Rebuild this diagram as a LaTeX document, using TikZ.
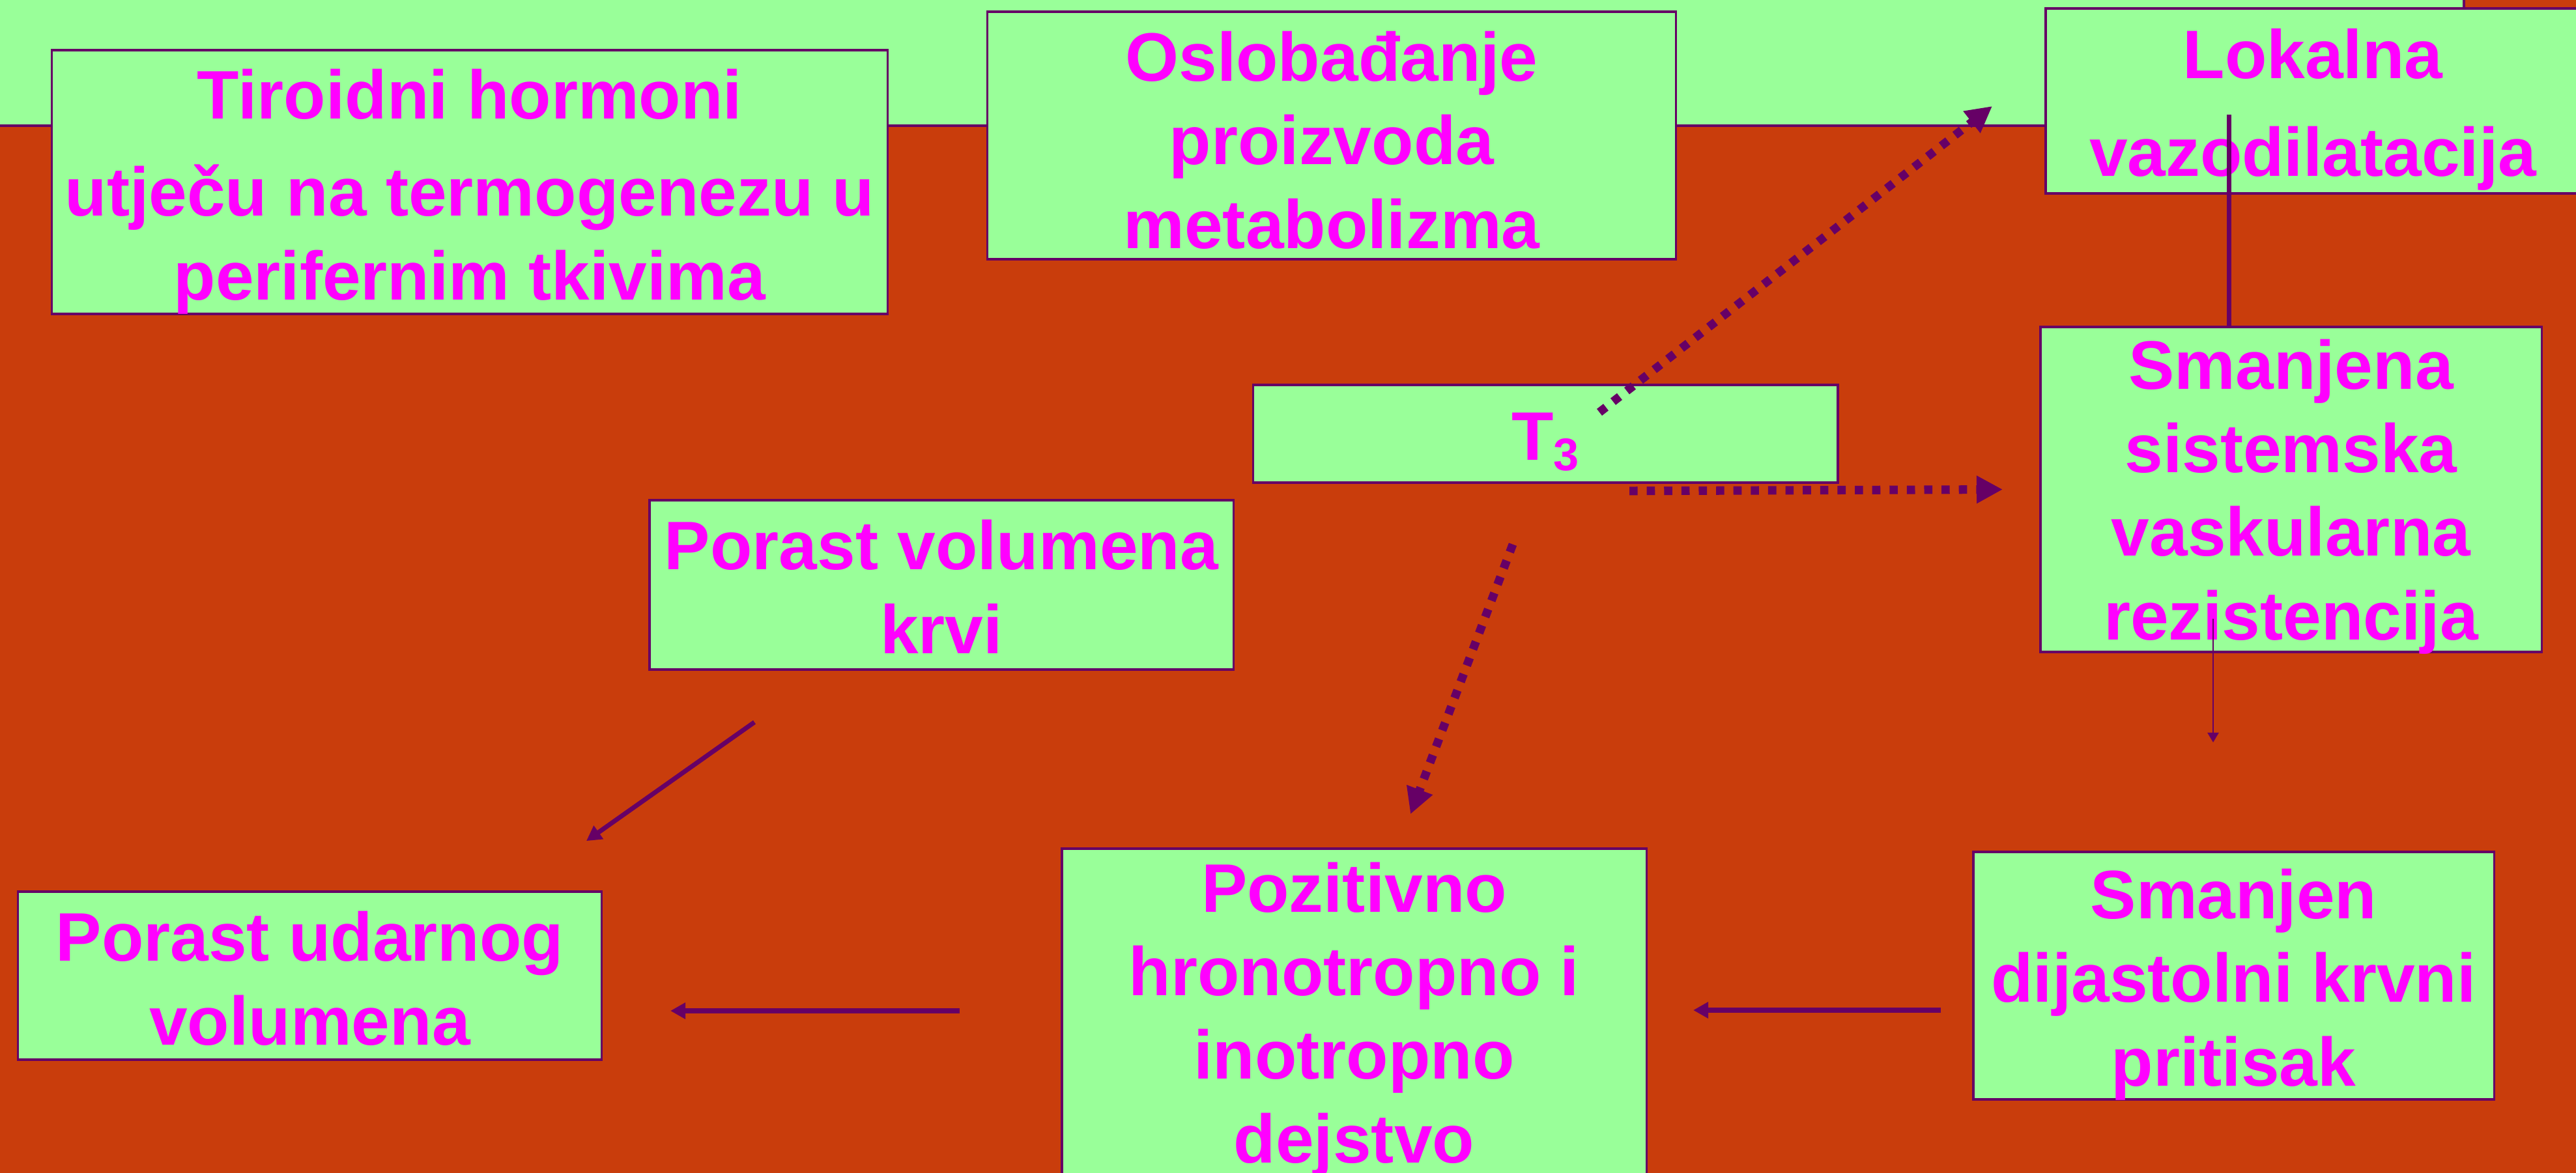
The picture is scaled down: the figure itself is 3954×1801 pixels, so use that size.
\documentclass[tikz,border=0pt]{standalone}
\usepackage{fontspec}
\setmainfont{Liberation Sans}
\usetikzlibrary{positioning,calc,arrows.meta}
\definecolor{bgred}{RGB}{201,61,12}
\definecolor{boxgreen}{RGB}{153,255,153}
\definecolor{txtpink}{RGB}{255,0,255}
\definecolor{arrpurple}{RGB}{102,0,102}
\tikzset{
	box/.style={draw=arrpurple, line width=1pt, fill=boxgreen, text=txtpink, align=center, inner sep=0pt, text depth=0pt, font=\fontsize{30}{36.5}\selectfont\bfseries},
	solidarr/.style={arrpurple, line width=2pt, -{Triangle[length=0.23cm,width=0.24cm]}},
	dotarr/.style={arrpurple, line width=3.7pt, dash pattern=on 0.126cm off 0.14cm, -{Triangle[length=0.4cm,width=0.4cm]}},
	thinarr/.style={arrpurple, line width=0.8pt, -{Triangle[length=0.15cm,width=0.17cm]}}
}

\begin{document}
\begin{tikzpicture}[x=0.01cm, y=-0.01cm]
	\useasboundingbox (0,0) rectangle (3954,1801);
	\clip (0,0) rectangle (3954,1801);
	\fill[bgred] (0,0) rectangle (3954,1801);
	\draw[arrpurple, line width=1pt, fill=boxgreen] (-10,-10) rectangle (3782,193);

	\begin{scope}
		\node[box, text height=3.61cm, minimum width=12.82cm, minimum height=4.05cm] (tir) at (721, 279.5) {Tiroidni hormoni\\[6pt]utječu na termogenezu u\\perifernim tkivima};
		\node[box, text height=3.46cm, minimum width=10.56cm, minimum height=3.80cm] (osl) at (2044, 208) {Oslobađanje\\proizvoda\\metabolizma};
		\node[box, text height=2.30cm, minimum width=8.20cm, minimum height=2.84cm] (lok) at (3550, 155) {Lokalna\\[6pt]vazodilatacija};
		\node[box, text height=0.80cm, minimum width=8.97cm, minimum height=1.50cm] (t3) at (2372, 666) {T\raisebox{-4.8pt}[0pt][0pt]{\fontsize{20}{20}\selectfont 3}};
		\node[box, text height=4.61cm, minimum width=7.69cm, minimum height=4.99cm] (sma) at (3516.5, 751.5) {Smanjena\\sistemska\\vaskularna\\rezistencija};
		\node[box, text height=2.10cm, minimum width=8.96cm, minimum height=2.60cm] (por) at (1445, 898) {Porast volumena\\krvi};
		\node[box, text height=2.12cm, minimum width=8.95cm, minimum height=2.58cm] (uda) at (475.5, 1498) {Porast udarnog\\volumena};
		\node[box, text height=4.40cm, minimum width=8.97cm, minimum height=5.24cm] (poz) at (2078.5, 1565) {Pozitivno\\hronotropno i\\inotropno\\dejstvo};
		\node[box, text height=3.38cm, minimum width=7.99cm, minimum height=3.80cm] (dij) at (3428.5, 1498) {Smanjen\\dijastolni krvni\\pritisak};

		\draw[dotarr] ($(t3.center)+(83,-33)$) -- ($(lok.west)+(-80,8)$);
		\draw[dotarr] ($(t3.south)+(129,11)$) -- ($(sma.west)+(-56,0)$);
		\draw[dotarr] ($(t3.south)+(-50,93)$) -- ($(poz.north)+(86.5,-51)$);
		\draw[arrpurple, line width=2pt] ($(lok.center)+(-129,21)$) -- ($(sma.north)+(-95.5,0)$);
		\draw[thinarr] ($(sma.south)+(-119.5,-53)$) -- ($(sma.south)+(-119.5,137)$);
		\draw[solidarr] ($(por.south)+(-287,79)$) -- ($(uda.north)+(424.5,-76)$);
		\draw[solidarr] ($(poz.west)+(-155,-13)$) -- ($(uda.east)+(104,54)$);
		\draw[solidarr] ($(dij.west)+(-48,53)$) -- ($(poz.east)+(70,-14)$);
	\end{scope}
\end{tikzpicture}
\end{document}
